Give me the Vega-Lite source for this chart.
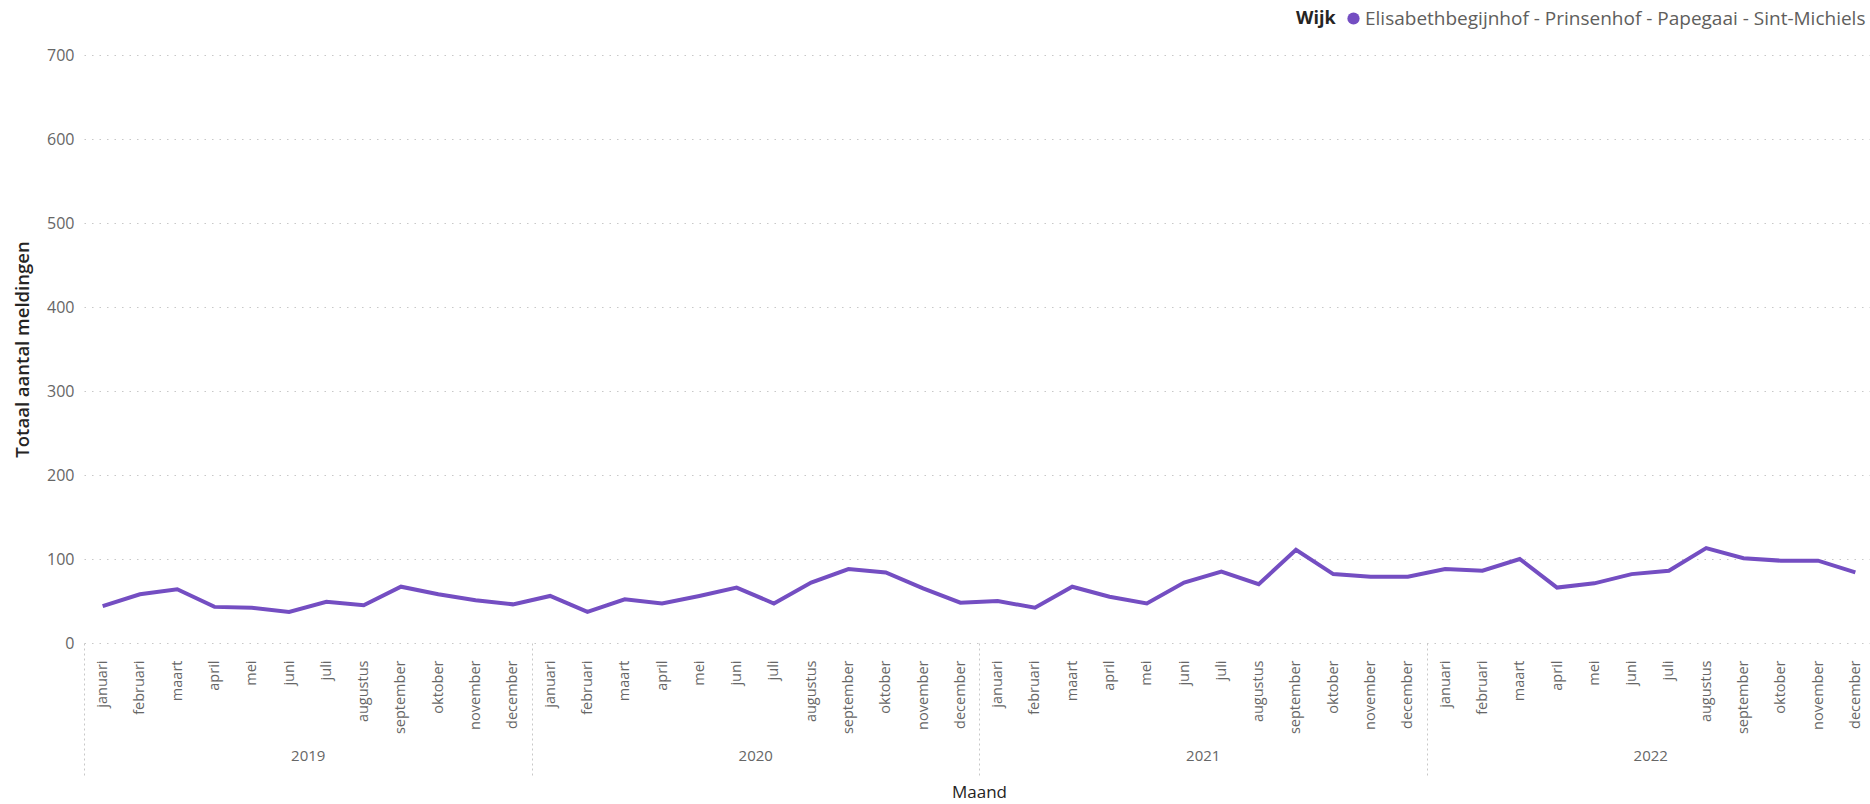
{
  "$schema": "https://vega.github.io/schema/vega-lite/v6.json",
  "width": 1790,
  "height": 588,
  "autosize": {"type": "none"},
  "padding": {"left": 84, "top": 55, "right": -4, "bottom": 161},
  "background": "white",
  "config": {"view": {"stroke": null}, "font": "Open Sans"},
  "data": {
    "values": [
      {"periode": "2019-01", "jaar": "2019", "meldingen": 44, "wijk": "Elisabethbegijnhof - Prinsenhof - Papegaai - Sint-Michiels"},
      {"periode": "2019-02", "jaar": "2019", "meldingen": 58, "wijk": "Elisabethbegijnhof - Prinsenhof - Papegaai - Sint-Michiels"},
      {"periode": "2019-03", "jaar": "2019", "meldingen": 64, "wijk": "Elisabethbegijnhof - Prinsenhof - Papegaai - Sint-Michiels"},
      {"periode": "2019-04", "jaar": "2019", "meldingen": 43, "wijk": "Elisabethbegijnhof - Prinsenhof - Papegaai - Sint-Michiels"},
      {"periode": "2019-05", "jaar": "2019", "meldingen": 42, "wijk": "Elisabethbegijnhof - Prinsenhof - Papegaai - Sint-Michiels"},
      {"periode": "2019-06", "jaar": "2019", "meldingen": 37, "wijk": "Elisabethbegijnhof - Prinsenhof - Papegaai - Sint-Michiels"},
      {"periode": "2019-07", "jaar": "2019", "meldingen": 49, "wijk": "Elisabethbegijnhof - Prinsenhof - Papegaai - Sint-Michiels"},
      {"periode": "2019-08", "jaar": "2019", "meldingen": 45, "wijk": "Elisabethbegijnhof - Prinsenhof - Papegaai - Sint-Michiels"},
      {"periode": "2019-09", "jaar": "2019", "meldingen": 67, "wijk": "Elisabethbegijnhof - Prinsenhof - Papegaai - Sint-Michiels"},
      {"periode": "2019-10", "jaar": "2019", "meldingen": 58, "wijk": "Elisabethbegijnhof - Prinsenhof - Papegaai - Sint-Michiels"},
      {"periode": "2019-11", "jaar": "2019", "meldingen": 51, "wijk": "Elisabethbegijnhof - Prinsenhof - Papegaai - Sint-Michiels"},
      {"periode": "2019-12", "jaar": "2019", "meldingen": 46, "wijk": "Elisabethbegijnhof - Prinsenhof - Papegaai - Sint-Michiels"},
      {"periode": "2020-01", "jaar": "2020", "meldingen": 56, "wijk": "Elisabethbegijnhof - Prinsenhof - Papegaai - Sint-Michiels"},
      {"periode": "2020-02", "jaar": "2020", "meldingen": 37, "wijk": "Elisabethbegijnhof - Prinsenhof - Papegaai - Sint-Michiels"},
      {"periode": "2020-03", "jaar": "2020", "meldingen": 52, "wijk": "Elisabethbegijnhof - Prinsenhof - Papegaai - Sint-Michiels"},
      {"periode": "2020-04", "jaar": "2020", "meldingen": 47, "wijk": "Elisabethbegijnhof - Prinsenhof - Papegaai - Sint-Michiels"},
      {"periode": "2020-05", "jaar": "2020", "meldingen": 56, "wijk": "Elisabethbegijnhof - Prinsenhof - Papegaai - Sint-Michiels"},
      {"periode": "2020-06", "jaar": "2020", "meldingen": 66, "wijk": "Elisabethbegijnhof - Prinsenhof - Papegaai - Sint-Michiels"},
      {"periode": "2020-07", "jaar": "2020", "meldingen": 47, "wijk": "Elisabethbegijnhof - Prinsenhof - Papegaai - Sint-Michiels"},
      {"periode": "2020-08", "jaar": "2020", "meldingen": 72, "wijk": "Elisabethbegijnhof - Prinsenhof - Papegaai - Sint-Michiels"},
      {"periode": "2020-09", "jaar": "2020", "meldingen": 88, "wijk": "Elisabethbegijnhof - Prinsenhof - Papegaai - Sint-Michiels"},
      {"periode": "2020-10", "jaar": "2020", "meldingen": 84, "wijk": "Elisabethbegijnhof - Prinsenhof - Papegaai - Sint-Michiels"},
      {"periode": "2020-11", "jaar": "2020", "meldingen": 65, "wijk": "Elisabethbegijnhof - Prinsenhof - Papegaai - Sint-Michiels"},
      {"periode": "2020-12", "jaar": "2020", "meldingen": 48, "wijk": "Elisabethbegijnhof - Prinsenhof - Papegaai - Sint-Michiels"},
      {"periode": "2021-01", "jaar": "2021", "meldingen": 50, "wijk": "Elisabethbegijnhof - Prinsenhof - Papegaai - Sint-Michiels"},
      {"periode": "2021-02", "jaar": "2021", "meldingen": 42, "wijk": "Elisabethbegijnhof - Prinsenhof - Papegaai - Sint-Michiels"},
      {"periode": "2021-03", "jaar": "2021", "meldingen": 67, "wijk": "Elisabethbegijnhof - Prinsenhof - Papegaai - Sint-Michiels"},
      {"periode": "2021-04", "jaar": "2021", "meldingen": 55, "wijk": "Elisabethbegijnhof - Prinsenhof - Papegaai - Sint-Michiels"},
      {"periode": "2021-05", "jaar": "2021", "meldingen": 47, "wijk": "Elisabethbegijnhof - Prinsenhof - Papegaai - Sint-Michiels"},
      {"periode": "2021-06", "jaar": "2021", "meldingen": 72, "wijk": "Elisabethbegijnhof - Prinsenhof - Papegaai - Sint-Michiels"},
      {"periode": "2021-07", "jaar": "2021", "meldingen": 85, "wijk": "Elisabethbegijnhof - Prinsenhof - Papegaai - Sint-Michiels"},
      {"periode": "2021-08", "jaar": "2021", "meldingen": 70, "wijk": "Elisabethbegijnhof - Prinsenhof - Papegaai - Sint-Michiels"},
      {"periode": "2021-09", "jaar": "2021", "meldingen": 111, "wijk": "Elisabethbegijnhof - Prinsenhof - Papegaai - Sint-Michiels"},
      {"periode": "2021-10", "jaar": "2021", "meldingen": 82, "wijk": "Elisabethbegijnhof - Prinsenhof - Papegaai - Sint-Michiels"},
      {"periode": "2021-11", "jaar": "2021", "meldingen": 79, "wijk": "Elisabethbegijnhof - Prinsenhof - Papegaai - Sint-Michiels"},
      {"periode": "2021-12", "jaar": "2021", "meldingen": 79, "wijk": "Elisabethbegijnhof - Prinsenhof - Papegaai - Sint-Michiels"},
      {"periode": "2022-01", "jaar": "2022", "meldingen": 88, "wijk": "Elisabethbegijnhof - Prinsenhof - Papegaai - Sint-Michiels"},
      {"periode": "2022-02", "jaar": "2022", "meldingen": 86, "wijk": "Elisabethbegijnhof - Prinsenhof - Papegaai - Sint-Michiels"},
      {"periode": "2022-03", "jaar": "2022", "meldingen": 100, "wijk": "Elisabethbegijnhof - Prinsenhof - Papegaai - Sint-Michiels"},
      {"periode": "2022-04", "jaar": "2022", "meldingen": 66, "wijk": "Elisabethbegijnhof - Prinsenhof - Papegaai - Sint-Michiels"},
      {"periode": "2022-05", "jaar": "2022", "meldingen": 71, "wijk": "Elisabethbegijnhof - Prinsenhof - Papegaai - Sint-Michiels"},
      {"periode": "2022-06", "jaar": "2022", "meldingen": 82, "wijk": "Elisabethbegijnhof - Prinsenhof - Papegaai - Sint-Michiels"},
      {"periode": "2022-07", "jaar": "2022", "meldingen": 86, "wijk": "Elisabethbegijnhof - Prinsenhof - Papegaai - Sint-Michiels"},
      {"periode": "2022-08", "jaar": "2022", "meldingen": 113, "wijk": "Elisabethbegijnhof - Prinsenhof - Papegaai - Sint-Michiels"},
      {"periode": "2022-09", "jaar": "2022", "meldingen": 101, "wijk": "Elisabethbegijnhof - Prinsenhof - Papegaai - Sint-Michiels"},
      {"periode": "2022-10", "jaar": "2022", "meldingen": 98, "wijk": "Elisabethbegijnhof - Prinsenhof - Papegaai - Sint-Michiels"},
      {"periode": "2022-11", "jaar": "2022", "meldingen": 98, "wijk": "Elisabethbegijnhof - Prinsenhof - Papegaai - Sint-Michiels"},
      {"periode": "2022-12", "jaar": "2022", "meldingen": 84, "wijk": "Elisabethbegijnhof - Prinsenhof - Papegaai - Sint-Michiels"}
    ]
  },
  "layer": [
    {
      "mark": {"type": "bar", "opacity": 0},
      "encoding": {
        "x": {
          "field": "jaar",
          "type": "nominal",
          "scale": {"paddingInner": 0, "paddingOuter": 0},
          "axis": {
            "orient": "bottom",
            "title": null,
            "domain": false,
            "grid": false,
            "ticks": true,
            "tickBand": "extent",
            "tickSize": 132,
            "tickColor": "#c8c8c8",
            "tickDash": [2, 3],
            "tickWidth": 1,
            "labelAngle": 0,
            "labelPadding": -27,
            "labelFontSize": 15,
            "labelColor": "#666666"
          }
        }
      }
    },
    {
      "mark": {"type": "line", "strokeWidth": 4},
      "encoding": {
        "x": {
          "field": "periode",
          "type": "ordinal",
          "scale": {"type": "point", "padding": 0.5},
          "axis": {
            "orient": "bottom",
            "title": "Maand",
            "titleFontSize": 17,
            "titleFontWeight": "normal",
            "titleColor": "#252423",
            "titlePadding": 51,
            "domain": false,
            "ticks": false,
            "grid": false,
            "labelAngle": -90,
            "labelPadding": 17,
            "labelFontSize": 14.5,
            "labelColor": "#666666",
            "labelExpr": "['januari','februari','maart','april','mei','juni','juli','augustus','september','oktober','november','december'][toNumber(substring(datum.value,5,7))-1]"
          }
        },
        "y": {
          "field": "meldingen",
          "type": "quantitative",
          "scale": {"domain": [0, 700]},
          "axis": {
            "title": "Totaal aantal meldingen",
            "titleFontSize": 18.5,
            "titleFontWeight": 600,
            "titleColor": "#252423",
            "titlePadding": 14,
            "values": [0, 100, 200, 300, 400, 500, 600, 700],
            "domain": false,
            "ticks": false,
            "labelPadding": 10,
            "labelFontSize": 16,
            "labelColor": "#666666",
            "grid": true,
            "gridColor": "#c8c8c8",
            "gridDash": [1.5, 6],
            "gridWidth": 1.2
          }
        },
        "color": {
          "field": "wijk",
          "type": "nominal",
          "scale": {"range": ["#744EC2"]},
          "legend": {
            "title": "Wijk",
            "orient": "none",
            "legendX": 1212,
            "legendY": -46,
            "direction": "horizontal",
            "titleOrient": "left",
            "titleFontSize": 18,
            "titleFontWeight": "bold",
            "titleColor": "#252423",
            "titlePadding": 8,
            "labelFontSize": 19,
            "labelColor": "#605e5c",
            "labelOffset": 2,
            "symbolType": "circle",
            "symbolSize": 150,
            "symbolFillColor": "#744EC2",
            "symbolStrokeWidth": 0,
            "labelLimit": 800
          }
        }
      }
    }
  ],
  "resolve": {"scale": {"x": "independent"}, "axis": {"x": "independent"}}
}
